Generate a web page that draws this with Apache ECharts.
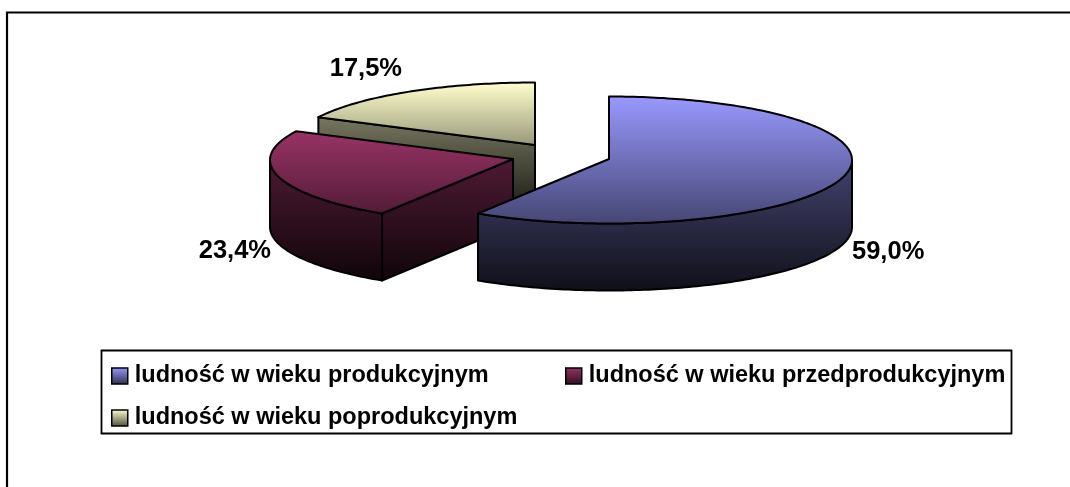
<!DOCTYPE html>
<html>
<head>
<meta charset="utf-8">
<style>html,body{margin:0;padding:0;background:#fff}#c{width:1070px;height:487px}</style>
<script src="https://cdn.jsdelivr.net/npm/echarts@6/dist/echarts.min.js"></script>
</head>
<body>
<div id="c"></div>
<script>
// DATA
const categories = ['ludność w wieku produkcyjnym', 'ludność w wieku przedprodukcyjnym', 'ludność w wieku poprodukcyjnym'];
const shares = [59.0, 23.4, 17.5];

// STYLE / LAYOUT
const baseColors = [[153,153,255],[153,51,102],[255,255,204]];
const centers = [[609,159],[513,159],[535,145]];
const labelAnchors = [[852,252],[271,251],[402,69]];
const labelAlign = ['left','right','right'];
const legendPos = [[111,364],[565,364],[111,406]];
const RX = 243, RY = 63.5, ARC_DY = 1, DEPTH = 67, LW = 2;
const FADE = 0.17, SIDE = 0.6;

const total = shares.reduce((a,b)=>a+b,0);
const mix = (c,f)=>`rgb(${c.map(v=>Math.round(v*f)).join(',')})`;

function grad(c, y0, y1, k){
  return new echarts.graphic.LinearGradient(0,y0,0,y1,[
    {offset:0,color:mix(c,k)},{offset:1,color:mix(c,k*FADE)}
  ],true);
}
function rim(cx,cy,a0,a1){
  const pts=[], n=Math.max(2,Math.ceil((a1-a0)/(Math.PI/180)));
  for(let i=0;i<=n;i++){
    const a=a0+(a1-a0)*i/n;
    pts.push([cx+RX*Math.sin(a), cy+ARC_DY-RY*Math.cos(a)]);
  }
  return pts;
}
function renderSlice(idx){
  return function(params, api){
    const value = api.value(0);
    let before = 0;
    for(let i=0;i<idx;i++) before += shares[i];
    const a0 = before/total*Math.PI*2, a1 = (before+value)/total*Math.PI*2;
    const [cx,cy] = centers[idx], c = baseColors[idx];
    const arc = rim(cx,cy,a0,a1);
    const ys = arc.map(p=>p[1]).concat(cy);
    const top = Math.min(...ys), bottom = Math.max(...ys)+DEPTH;
    const children = [];
    const down = p=>[p[0],p[1]+DEPTH];
    const lineStyle = {stroke:'#000',lineWidth:LW,lineJoin:'round'};
    const quad = (pts)=>children.push({type:'polygon',shape:{points:pts},
      style:Object.assign({fill:grad(c,top,bottom,SIDE)},lineStyle)});
    // radial cut faces turned towards the viewer
    if(Math.sin(a0)<-1e-6){
      const p=arc[0], o=[cx,cy];
      quad([o,p,down(p),down(o)]);
    }
    if(Math.sin(a1)>1e-6){
      const p=arc[arc.length-1], o=[cx,cy];
      quad([o,p,down(p),down(o)]);
    }
    // front rim
    const f0=Math.max(a0,Math.PI/2), f1=Math.min(a1,Math.PI*1.5);
    if(f1>f0){
      const r=rim(cx,cy,f0,f1);
      quad(r.concat(r.slice().reverse().map(down)));
    }
    // top face
    children.push({type:'polygon',shape:{points:[[cx,cy]].concat(arc)},
      style:Object.assign({fill:grad(c,top,bottom,1)},lineStyle)});
    // value label
    children.push({type:'text',z2:50,style:{
      text:value.toFixed(1).replace('.',',')+'%',
      x:labelAnchors[idx][0],y:labelAnchors[idx][1],
      align:labelAlign[idx],verticalAlign:'middle',
      fill:'#000',font:'bold 25.5px "Liberation Sans", Arial, sans-serif'}});
    return {type:'group',children};
  };
}

const chart = echarts.init(document.getElementById('c'),null,{renderer:'canvas'});
chart.setOption({
  animation:false,
  backgroundColor:'#fff',
  graphic:[
    {type:'polyline',z:0,shape:{points:[[7,487],[7,12.5],[1070,12.5]]},style:{fill:null,stroke:'#000',lineWidth:2.2}},
    {type:'rect',z:0,shape:{x:101.5,y:350.5,width:910,height:83},style:{fill:'#fff',stroke:'#000',lineWidth:1.8}}
  ],
  legend:categories.map((name,i)=>({
    data:[{name,itemStyle:{
      color:new echarts.graphic.LinearGradient(0,0,0,1,[
        {offset:0,color:mix(baseColors[i],1)},{offset:1,color:mix(baseColors[i],0.3)}]),
      borderColor:'#000',borderWidth:1.5}}],
    left:legendPos[i][0],top:legendPos[i][1],padding:0,
    icon:'rect',itemWidth:16,itemHeight:16,selectedMode:false,
    textStyle:{color:'#000',fontWeight:'bold',fontSize:23.5,fontFamily:'"Liberation Sans", Arial, sans-serif',padding:[0,0,0,2]}
  })),
  series:categories.map((name,i)=>({
    type:'custom',name,coordinateSystem:'none',silent:true,z:5-i,
    renderItem:renderSlice(i),
    data:[[shares[i]]]
  }))
});
</script>
</body>
</html>
